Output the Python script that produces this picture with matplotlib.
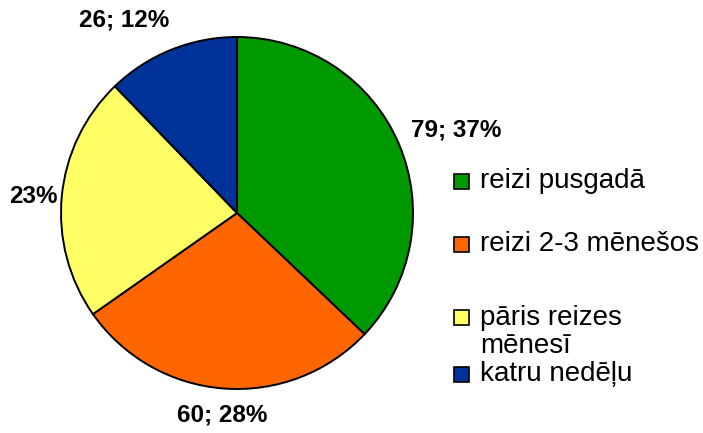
import matplotlib
matplotlib.use("Agg")
import matplotlib.pyplot as plt
from matplotlib.patches import Rectangle

plt.rcParams['font.family'] = ['Liberation Sans', 'DejaVu Sans']

categories = ["reizi pusgadā", "reizi 2-3 mēnešos", "pāris reizes\nmēnesī", "katru nedēļu"]
counts = [79, 60, 48, 26]
percents = [37, 28, 23, 12]
slice_labels = ["79; 37%", "60; 28%", "23%", "26; 12%"]
colors = ["#009900", "#FF6600", "#FFFF66", "#003399"]

W, H = 703, 433
fig = plt.figure(figsize=(W / 100, H / 100), dpi=100)

# pie axes: centre (237, 213) px, radius 176 px
cx, cy, r = 237, 213, 176
ax = fig.add_axes([(cx - r) / W, (H - cy - r) / H, 2 * r / W, 2 * r / H])
ax.pie(counts, colors=colors, startangle=90, counterclock=False,
       wedgeprops=dict(edgecolor="black", linewidth=1.4), radius=1.0)
ax.set_xlim(-1.0, 1.0)
ax.set_ylim(-1.0, 1.0)
ax.set_aspect("equal")
ax.axis("off")

# data labels (pixel positions, top-left origin)
label_pos = [(456, 130), (222, 415), (33, 196), (124, 20)]
for text, (px, py) in zip(slice_labels, label_pos):
    fig.text(px / W, 1 - py / H, text, ha="center", va="center",
             fontsize=17.5, fontweight="bold", color="black")

# legend
legend_y = [181, 244, 332, 374]
for cat, col, ly in zip(categories, colors, legend_y):
    sq_y = ly if "\n" not in cat else ly - 15
    fig.patches.append(Rectangle(((454) / W, 1 - (sq_y + 7.5) / H), 15 / W, 15 / H,
                                 transform=fig.transFigure, facecolor=col,
                                 edgecolor="black", linewidth=1.2))
    fig.text(480 / W, 1 - ly / H, cat, ha="left", va="center",
             fontsize=20, color="black", linespacing=1.08)

fig.savefig("out.png", dpi=100, facecolor="white")
